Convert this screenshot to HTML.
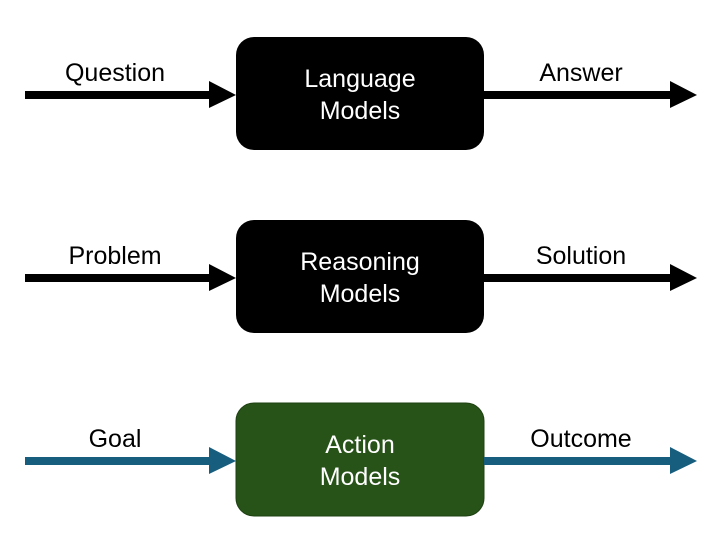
<!DOCTYPE html>
<html><head><style>
body{margin:0;width:725px;height:539px;background:#fff;overflow:hidden}
svg text{font-family:"Liberation Sans",sans-serif;font-size:25px}
</style></head><body>
<svg width="725" height="539" viewBox="0 0 725 539">
<g>
<rect x="236" y="37" width="248" height="113" rx="18" fill="#000"/>
<text x="360" y="87" fill="#fff" text-anchor="middle">Language</text>
<text x="360" y="119" fill="#fff" text-anchor="middle">Models</text>
<rect x="25" y="91" width="186" height="8" fill="#000"/><polygon points="209,81 236,95 209,108" fill="#000"/>
<rect x="484" y="91" width="188" height="8" fill="#000"/><polygon points="670,81 697,95 670,108" fill="#000"/>
<text x="115" y="81" text-anchor="middle">Question</text>
<text x="581" y="81" text-anchor="middle">Answer</text>
</g>
<g>
<rect x="236" y="220" width="248" height="113" rx="18" fill="#000"/>
<text x="360" y="270" fill="#fff" text-anchor="middle">Reasoning</text>
<text x="360" y="302" fill="#fff" text-anchor="middle">Models</text>
<rect x="25" y="274" width="186" height="8" fill="#000"/><polygon points="209,264 236,278 209,291" fill="#000"/>
<rect x="484" y="274" width="188" height="8" fill="#000"/><polygon points="670,264 697,278 670,291" fill="#000"/>
<text x="115" y="264" text-anchor="middle">Problem</text>
<text x="581" y="264" text-anchor="middle">Solution</text>
</g>
<g>
<rect x="236" y="403" width="248" height="113" rx="18" fill="#275318" stroke="#1e4012" stroke-width="1"/>
<text x="360" y="453" fill="#fff" text-anchor="middle">Action</text>
<text x="360" y="485" fill="#fff" text-anchor="middle">Models</text>
<rect x="25" y="457" width="186" height="8" fill="#175e7e"/><polygon points="209,447 236,461 209,474" fill="#175e7e"/>
<rect x="484" y="457" width="188" height="8" fill="#175e7e"/><polygon points="670,447 697,461 670,474" fill="#175e7e"/>
<text x="115" y="447" text-anchor="middle">Goal</text>
<text x="581" y="447" text-anchor="middle">Outcome</text>
</g>
</svg>
</body></html>
